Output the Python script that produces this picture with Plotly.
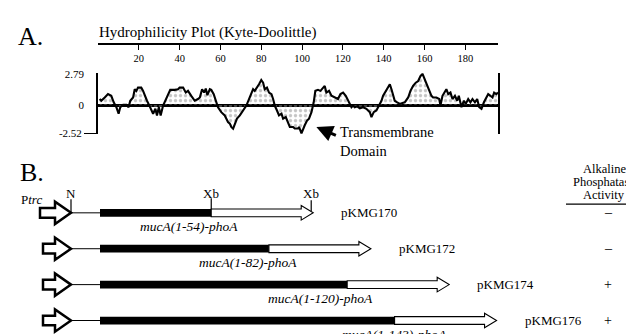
import plotly.graph_objects as go

# ---------------- data ----------------
# Kyte-Doolittle hydrophilicity profile of MucA (residue, value)
RES = [0.8, 1.6, 3.3, 4.9, 6.5, 7.7, 9.0, 10.1, 10.9, 12.3,
       13.9, 15.0, 15.8, 17.2, 18.0, 18.8, 19.6, 21.2, 22.1, 22.9,
       24.0, 25.0, 26.1, 27.0, 28.1, 28.9, 29.8, 30.7, 31.9, 33.2,
       34.3, 35.4, 37.6, 39.2, 40.0, 41.7, 43.0, 44.1, 45.7, 47.4,
       49.0, 49.9, 51.0, 52.0, 52.8, 53.6, 54.8, 55.5, 56.7, 58.0,
       58.8, 60.4, 62.1, 62.9, 63.7, 64.6, 65.3, 66.2, 67.0, 68.1,
       69.5, 71.1, 72.7, 74.0, 75.1, 76.0, 76.8, 77.9, 78.9, 80.0,
       80.9, 81.7, 82.8, 83.8, 85.0, 85.8, 86.6, 87.7, 88.7, 89.9,
       90.7, 92.0, 93.1, 94.0, 95.6, 96.4, 98.0, 98.5, 99.7, 100.5,
       101.3, 102.5, 103.4, 104.6, 105.7, 106.5, 107.8, 109.0, 110.0, 111.1,
       111.9, 113.2, 114.4, 116.0, 117.6, 118.8, 120.1, 121.4, 122.1, 123.4,
       124.2, 125.0, 125.8, 127.0, 128.3, 129.9, 131.5, 133.2, 134.0, 135.1,
       136.4, 137.7, 138.9, 139.7, 141.0, 142.2, 143.0, 143.8, 144.6, 145.4,
       146.6, 147.9, 149.2, 150.3, 152.0, 153.1, 154.4, 155.7, 156.9, 158.0,
       159.0, 160.1, 160.9, 162.3, 163.4, 164.2, 165.8, 167.2, 167.8, 168.8,
       169.9, 170.7, 171.6, 172.7, 173.7, 174.9, 176.0, 176.8, 178.1, 179.3,
       180.2, 181.4, 182.5, 183.5, 184.7, 185.8, 186.8, 187.9, 189.1, 190.3,
       191.2, 192.3, 193.3, 194.1, 195.2, 196.0]
HYDRO = [0.54, 0.39, 0.68, 0.98, 0.83, 0.25, -0.19, -0.77, -0.19, 0.02,
         0.02, -0.19, 0.39, 0.68, 1.42, 1.27, 1.56, 1.56, 1.27, 0.83,
         0.39, 0.02, -0.48, -0.77, -0.33, -0.92, -0.19, -0.92, -0.04, 0.54,
         0.98, 1.36, 1.36, 1.42, 1.56, 1.56, 1.12, 1.27, 0.83, 0.39,
         0.54, 0.68, 1.42, 1.12, 1.47, 0.89, 1.42, 1.36, 0.98, 0.25,
         -0.19, -0.63, -0.92, -1.21, -1.51, -1.65, -1.95, -2.10, -1.65, -1.21,
         -0.92, -0.48, -0.04, 0.54, 1.12, 1.42, 1.27, 1.56, 1.86, 2.24,
         2.00, 1.42, 1.56, 1.12, 0.98, 0.54, -0.04, -0.48, -0.92, -0.77,
         -1.21, -1.07, -1.51, -1.95, -1.95, -2.09, -2.09, -1.95, -2.52, -2.09,
         -1.80, -1.36, -1.21, -0.63, 0.25, 1.27, 1.36, 1.27, 1.47, 1.71,
         1.12, 1.27, 0.83, 0.68, 0.54, 0.98, 1.12, 0.83, 0.54, 0.02,
         -0.19, -0.04, -0.19, -0.11, -0.28, -0.19, -0.33, -0.63, -1.07, -0.63,
         -0.48, -0.04, 0.39, 0.83, 1.27, 1.56, 1.86, 1.42, 0.83, 0.39,
         0.25, 0.11, 0.19, 0.25, 0.68, 1.27, 1.71, 2.00, 2.15, 2.59,
         2.79, 2.30, 1.86, 1.27, 0.83, 0.68, 0.68, 0.54, -0.04, 0.83,
         1.12, 1.42, 0.98, 1.12, 0.54, 0.83, 0.39, 0.83, -0.19, 0.39,
         0.11, 0.54, 0.25, 0.54, 0.25, 0.54, -0.19, -0.33, 0.25, 0.68,
         0.98, 0.83, 0.68, 1.12, 0.98, 1.12]
TOP_TICKS = [20, 40, 60, 80, 100, 120, 140, 160, 180]
SEQ_LEN = 196
Y_TICKS = [2.79, 0, -2.52]

# gene fusion constructs
FUSION_END = [54, 82, 120, 143]          # last MucA residue fused to PhoA
FUSION_LABELS = ["mucA(1-54)-phoA", "mucA(1-82)-phoA",
                 "mucA(1-120)-phoA", "mucA(1-143)-phoA"]
PLASMIDS = ["pKMG170", "pKMG172", "pKMG174", "pKMG176"]
ACTIVITY = ["–", "–", "+", "+"]
PHOA_LEN = 49.5                          # length of phoA segment in diagram units
HEADER = ["Alkaline", "Phosphatase", "Activity"]

# ---------------- style / layout helpers ----------------
W, H = 634, 334
SERIF = "Liberation Serif, Times New Roman, serif"


def fx(p):
    return p / W


def fy(p):
    return 1 - p / H


# panel A plot box (pixels)
A_LEFT, A_RIGHT, A_TOP, A_BOT, A_AXIS = 90, 490, 62, 125, 32
Y_RANGE = [-2.6, 2.85]

# panel B mapping
B_X0, B_PX = 92, 2.06          # pixel of residue 0, pixels per residue
B_ROW0, B_STEP = 206, 37       # pixel of first row, pixels between rows
ROWS = list(range(len(FUSION_END)))


def bu(px):      # pixel length -> panel B x-units
    return px / B_PX


def bv(px):      # pixel length -> panel B row units
    return px / B_STEP


fig = go.Figure()

# hydrophilicity curve
fig.add_trace(go.Scatter(
    x=RES, y=HYDRO, mode="lines", line=dict(color="black", width=2.1),
    fill="tozeroy", fillcolor="rgba(0,0,0,0)",
    fillpattern=dict(shape=".", fgcolor="#8c8c8c", size=5, solidity=0.35),
    xaxis="x", yaxis="y", hoverinfo="skip", showlegend=False))
# anchor traces for helper axes
fig.add_trace(go.Scatter(x=[0, SEQ_LEN], y=[0, 0], mode="markers", marker=dict(opacity=0),
                         xaxis="x2", yaxis="y", hoverinfo="skip", showlegend=False))
fig.add_trace(go.Scatter(x=[0], y=[0], mode="markers", marker=dict(opacity=0),
                         xaxis="x", yaxis="y2", hoverinfo="skip", showlegend=False))

# panel B: black mucA segments
fig.add_trace(go.Bar(
    x=FUSION_END, y=ROWS, base=0, orientation="h", width=bv(8),
    marker=dict(color="black", line=dict(width=0)),
    xaxis="x3", yaxis="y3", hoverinfo="skip", showlegend=False))

# promoter geometry (x units)
P_TAIL, P_NECK, P_TIP = bu(35 - B_X0), bu(47 - B_X0), bu(63 - B_X0)
SH_H, HD_H = bv(5), bv(11.5)

# thin leader lines from promoter to gene
lx, ly = [], []
for r in ROWS:
    lx += [P_TIP, 0, None]
    ly += [r, r, None]
fig.add_trace(go.Scatter(x=lx, y=ly, mode="lines", line=dict(color="black", width=1),
                         xaxis="x3", yaxis="y3", hoverinfo="skip", showlegend=False))

shapes = []
for r, end in zip(ROWS, FUSION_END):
    # promoter block arrow
    tail = P_TAIL - (bu(3) if r == 0 else 0)
    path = (f"M{tail},{r - SH_H} L{P_NECK},{r - SH_H} L{P_NECK},{r - HD_H} "
            f"L{P_TIP},{r} L{P_NECK},{r + HD_H} L{P_NECK},{r + SH_H} L{tail},{r + SH_H} Z")
    shapes.append(dict(type="path", path=path, xref="x3", yref="y3",
                       line=dict(color="black", width=2.5), fillcolor="white", layer="above"))
    # hollow phoA arrow
    a0, a1 = end, end + PHOA_LEN
    hl = bu(12)
    s1, s2 = bv(4), bv(7.5)
    path = (f"M{a0},{r - s1} L{a1 - hl},{r - s1} L{a1 - hl},{r - s2} L{a1},{r} "
            f"L{a1 - hl},{r + s2} L{a1 - hl},{r + s1} L{a0},{r + s1} Z")
    shapes.append(dict(type="path", path=path, xref="x3", yref="y3",
                       line=dict(color="black", width=1.1), fillcolor="white", layer="above"))

# restriction-site ticks on first construct
tx, ty = [], []
tx += [P_TIP, P_TIP, None]
ty += [-bv(14), 0, None]
tx += [FUSION_END[0], FUSION_END[0], None]
ty += [-bv(15), -bv(4), None]
xb2 = FUSION_END[0] + PHOA_LEN - bu(2)
tx += [xb2, xb2, None]
ty += [-bv(13), -bv(2), None]
fig.add_trace(go.Scatter(x=tx, y=ty, mode="lines", line=dict(color="black", width=1.2),
                         xaxis="x3", yaxis="y3", hoverinfo="skip", showlegend=False))

# underline of activity header
shapes.append(dict(type="line", xref="paper", yref="paper",
                   x0=fx(558), x1=fx(633), y0=fy(197), y1=fy(197),
                   line=dict(color="black", width=1.2)))

ann = []


def txt(x, y, s, size, xanchor="left", yanchor="middle", xref="paper", yref="paper", **kw):
    ann.append(dict(x=x, y=y, text=s, xref=xref, yref=yref, showarrow=False,
                    xanchor=xanchor, yanchor=yanchor,
                    font=dict(family=SERIF, size=size, color="black"), **kw))


txt(fx(8), fy(24), "A.", 26)
txt(fx(89), fy(20), "Hydrophilicity Plot (Kyte-Doolittle)", 15)
txt(fx(10), fy(164), "B.", 26)
txt(fx(330), fy(112), "Transmembrane<br>Domain", 14.5, yanchor="top", align="left")
# arrow to transmembrane domain
ann.append(dict(x=107, y=-1.95, xref="x", yref="y", ax=21, ay=9, text="",
                showarrow=True, arrowhead=2, arrowsize=1.1, arrowwidth=3, arrowcolor="black"))

# panel B labels
txt(P_TIP, -bv(20), "N", 13, xanchor="center", xref="x3", yref="y3")
txt(FUSION_END[0], -bv(20), "Xb", 13, xanchor="center", xref="x3", yref="y3")
txt(xb2, -bv(20), "Xb", 13, xanchor="center", xref="x3", yref="y3")
txt(bu(23 - B_X0), -bv(14), "P<i>trc</i>", 13, xanchor="center", xref="x3", yref="y3")

LABEL_CX = [43, 72, 107, 143]
for r, end, lab, pl, act, cx in zip(ROWS, FUSION_END, FUSION_LABELS, PLASMIDS, ACTIVITY, LABEL_CX):
    txt(cx, r + bv(14.5), f"<i>{lab}</i>", 13.5, xanchor="center", xref="x3", yref="y3")
    txt(end + PHOA_LEN + bu(26), r, pl, 13, xref="x3", yref="y3")
    txt(bu(600 - B_X0), r, act, 14, xanchor="center", xref="x3", yref="y3")

for i, line in enumerate(HEADER):
    txt(fx(596), fy(161 + 13.5 * i), line, 12.5, xanchor="center")

fig.update_layout(
    width=W, height=H, margin=dict(l=0, r=0, t=0, b=0),
    paper_bgcolor="white", plot_bgcolor="rgba(0,0,0,0)",
    showlegend=False, shapes=shapes, annotations=ann,
    font=dict(family=SERIF, color="black"),
    xaxis=dict(domain=[fx(A_LEFT), fx(A_RIGHT)], range=[0, SEQ_LEN], visible=False,
               anchor="y"),
    yaxis=dict(domain=[fy(A_BOT), fy(A_TOP)], range=Y_RANGE, anchor="x",
               showline=True, mirror=True, linecolor="black", linewidth=1.6,
               showgrid=False, zeroline=True, zerolinecolor="black", zerolinewidth=2.5,
               tickvals=Y_TICKS[:2], ticktext=[str(v) for v in Y_TICKS[:2]],
               ticks="outside", ticklen=10, tickcolor="rgba(0,0,0,0)",
               tickfont=dict(family=SERIF, size=11, color="black")),
    yaxis2=dict(overlaying="y", anchor="x", side="left", range=Y_RANGE,
                showline=False, showgrid=False, zeroline=False,
                tickvals=[Y_TICKS[2]], ticktext=[str(Y_TICKS[2])],
                ticks="outside", ticklen=13, tickwidth=1.4, tickcolor="black",
                tickfont=dict(family=SERIF, size=11, color="black")),
    xaxis2=dict(overlaying="x", anchor="free", position=fy(A_AXIS), side="top",
                range=[0, SEQ_LEN], showline=True, linecolor="black", linewidth=1.6,
                showgrid=False, zeroline=False,
                tickvals=[0] + TOP_TICKS + [SEQ_LEN],
                ticktext=[""] + [str(t) for t in TOP_TICKS] + [""],
                ticks="inside", ticklen=5, tickwidth=1.4, tickcolor="black",
                ticklabelposition="inside", ticklabelstandoff=4,
                tickfont=dict(family=SERIF, size=10.5, color="black")),
    xaxis3=dict(domain=[0, 1], range=[(0 - B_X0) / B_PX, (W - B_X0) / B_PX],
                visible=False, anchor="y3", fixedrange=True),
    yaxis3=dict(domain=[0, 1], range=[(H - B_ROW0) / B_STEP, (0 - B_ROW0) / B_STEP],
                visible=False, anchor="x3", fixedrange=True),
)

fig.write_html("out.html")
